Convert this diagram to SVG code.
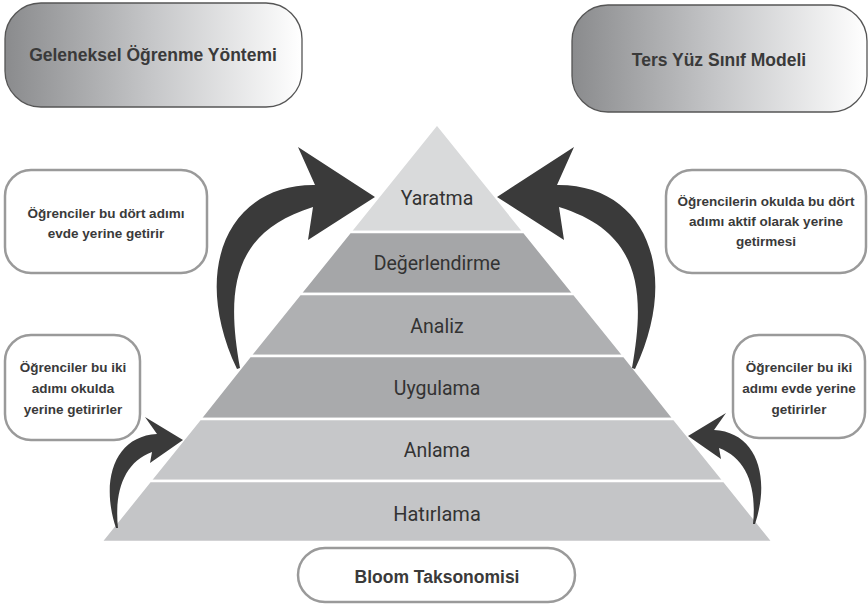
<svg xmlns="http://www.w3.org/2000/svg" width="868" height="604" viewBox="0 0 868 604">
<defs>
<linearGradient id="hdr" x1="0" y1="0" x2="1" y2="0">
<stop offset="0" stop-color="#8a8b8d"/>
<stop offset="0.5" stop-color="#c6c7c9"/>
<stop offset="1" stop-color="#ffffff"/>
</linearGradient>
<style>
.hdr{fill:url(#hdr);stroke:#555;stroke-width:1.3}
.box{fill:#fff;stroke:#9a9a9a;stroke-width:2.5}
.bt{font-family:"Liberation Sans",Arial,sans-serif;font-weight:bold;fill:#3a3a3a;text-anchor:middle}
.lt{font-family:Roboto,"Liberation Sans",sans-serif;font-size:19.5px;fill:#333;text-anchor:middle}
.lay{stroke:#fff;stroke-width:2.5}
.arr{fill:#3a3a3a}
</style>
</defs>
<rect width="868" height="604" fill="#fff"/>

<g id="pyramid">
<polygon class="lay" points="437,124 350,232 524,232" fill="#d9dadb"/>
<polygon class="lay" points="350,232 524,232 574,294 300,294" fill="#a5a6a8"/>
<polygon class="lay" points="300,294 574,294 624,356 250,356" fill="#afb0b2"/>
<polygon class="lay" points="250,356 624,356 674,419 200,419" fill="#a9aaac"/>
<polygon class="lay" points="200,419 674,419 724,481 150,481" fill="#c6c7c9"/>
<polygon class="lay" points="150,481 724,481 773,542 101,542" fill="#c4c5c7"/>
</g>
<g id="yaratma"><text class="lt" x="437" y="205">Yaratma</text></g>
<g id="degerlendirme"><text class="lt" x="437" y="270">Değerlendirme</text></g>
<g id="analiz"><text class="lt" x="437" y="333">Analiz</text></g>
<g id="uygulama"><text class="lt" x="437" y="395">Uygulama</text></g>
<g id="anlama"><text class="lt" x="437" y="457">Anlama</text></g>
<g id="hatirlama"><text class="lt" x="437" y="521" style="font-size:20px">Hatırlama</text></g>

<g id="geleneksel">
<rect class="hdr" x="5" y="3" width="297" height="104" rx="36"/>
<text class="bt" x="153" y="61" font-size="17.5">Geleneksel Öğrenme Yöntemi</text>
</g>
<g id="tersyuz">
<rect class="hdr" x="572" y="5" width="295" height="107" rx="36"/>
<text class="bt" x="719" y="66" font-size="17.5">Ters Yüz Sınıf Modeli</text>
</g>

<g id="evde-dort">
<rect class="box" x="5" y="170" width="202" height="103" rx="26"/>
<text class="bt" font-size="13.5"><tspan x="106" y="218">Öğrenciler bu dört adımı</tspan><tspan x="106" y="238">evde yerine getirir</tspan></text>
</g>
<g id="okulda-dort">
<rect class="box" x="666" y="170" width="200" height="103" rx="26"/>
<text class="bt" font-size="13.5"><tspan x="766" y="206">Öğrencilerin okulda bu dört</tspan><tspan x="766" y="226">adımı aktif olarak yerine</tspan><tspan x="766" y="246">getirmesi</tspan></text>
</g>
<g id="okulda-iki">
<rect class="box" x="5" y="335" width="135" height="105" rx="26"/>
<text class="bt" font-size="13.5"><tspan x="73" y="372">Öğrenciler bu iki</tspan><tspan x="73" y="393">adımı okulda</tspan><tspan x="73" y="414">yerine getirirler</tspan></text>
</g>
<g id="evde-iki">
<rect class="box" x="733" y="335" width="132" height="103" rx="26"/>
<text class="bt" font-size="13.5"><tspan x="799" y="372">Öğrenciler bu iki</tspan><tspan x="799" y="393">adımı evde yerine</tspan><tspan x="799" y="414">getirirler</tspan></text>
</g>
<g id="bloom">
<rect class="box" x="298" y="548" width="277" height="54" rx="27"/>
<text class="bt" x="437" y="583" font-size="17.5">Bloom Taksonomisi</text>
</g>

<g id="connectors">
<path id="bigL" class="arr" d="M240,368 C226,290 232,232 313,207 L308,240 L375,197 L298,147 L315,185 C228,184 190,270 237,369 Z"/>
<path class="arr" transform="translate(872,0) scale(-1,1)" d="M240,368 C226,290 232,232 313,207 L308,240 L375,197 L298,147 L315,185 C228,184 190,270 237,369 Z"/>
<path id="smallL" class="arr" d="M118,528 C114,490 125,462 152,452 L150,463 L183,440 L145,417 L157,434 C115,436 100,480 116,528 Z"/>
<path class="arr" transform="translate(871,-4) scale(-1,1)" d="M118,528 C114,490 125,462 152,452 L150,463 L183,440 L145,417 L157,434 C115,436 100,480 116,528 Z"/>
</g>
</svg>
